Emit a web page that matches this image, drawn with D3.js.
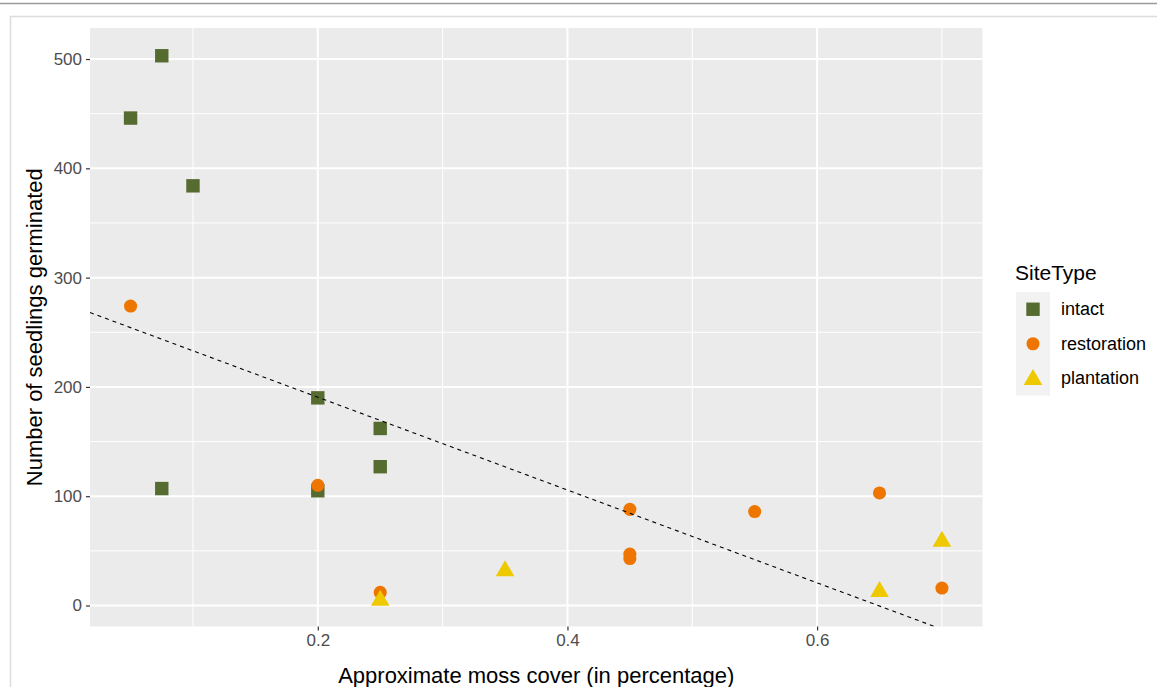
<!DOCTYPE html>
<html>
<head>
<meta charset="utf-8">
<script src="https://cdn.jsdelivr.net/npm/d3@7"></script>
<style>
  body { margin: 0; background: #fff; }
  svg { display: block; font-family: "Liberation Sans", Arial, sans-serif; }
</style>
</head>
<body>
<svg id="chart" width="1157" height="687"></svg>
<script>
"use strict";

// dados
var siteTypes = ["intact", "restoration", "plantation"];

var intactX = [0.05, 0.075, 0.1, 0.075, 0.2, 0.2, 0.25, 0.25];
var intactY = [446, 503, 384, 107, 190, 105, 162, 127];

var restorationX = [0.05, 0.2, 0.25, 0.45, 0.45, 0.45, 0.55, 0.65, 0.7];
var restorationY = [274, 110, 12, 88, 47, 43, 86, 103, 16];

var plantationX = [0.25, 0.35, 0.65, 0.7];
var plantationY = [6, 33, 14, 60];

var xTicks = [0.2, 0.4, 0.6];
var xMinor = [0.1, 0.3, 0.5, 0.7];
var yTicks = [0, 100, 200, 300, 400, 500];
var yMinor = [50, 150, 250, 350, 450];

// reta de regressão (abline)
var lineIntercept = 275.5;
var lineSlope = -424.6;

var cores = { intact: "#556b2f", restoration: "#ee7600", plantation: "#eec900" };

var svg = d3.select("#chart");

// moldura da página
svg.append("line").attr("x1", 0).attr("x2", 1157).attr("y1", 3.5).attr("y2", 3.5)
    .attr("stroke", "#9a9a9a").attr("stroke-width", 1.5);
svg.append("rect").attr("x", 10.5).attr("y", 16.5).attr("width", 1160).attr("height", 700)
    .attr("fill", "none").attr("stroke", "#dcdcdc").attr("stroke-width", 1.5);

var panel = { left: 90, top: 28, right: 982.5, bottom: 626.5 };

var x = d3.scaleLinear().domain([0.0175, 0.7325]).range([panel.left, panel.right]);
var y = d3.scaleLinear().domain([-19.2, 528.4]).range([panel.bottom, panel.top]);

svg.append("rect")
    .attr("x", panel.left).attr("y", panel.top)
    .attr("width", panel.right - panel.left).attr("height", panel.bottom - panel.top)
    .attr("fill", "#ebebeb");

var grid = svg.append("g");

function vline(v, w) {
    grid.append("line").attr("x1", x(v)).attr("x2", x(v))
        .attr("y1", panel.top).attr("y2", panel.bottom)
        .attr("stroke", "#fff").attr("stroke-width", w);
}
function hline(v, w) {
    grid.append("line").attr("x1", panel.left).attr("x2", panel.right)
        .attr("y1", y(v)).attr("y2", y(v))
        .attr("stroke", "#fff").attr("stroke-width", w);
}
xMinor.forEach(function (v) { vline(v, 1); });
yMinor.forEach(function (v) { hline(v, 1); });
xTicks.forEach(function (v) { vline(v, 2); });
yTicks.forEach(function (v) { hline(v, 2); });

// eixos
var xAxis = d3.axisBottom(x).tickValues(xTicks).tickSize(4).tickPadding(3)
    .tickFormat(d3.format(".1f"));
var gx = svg.append("g").attr("transform", "translate(0," + panel.bottom + ")").call(xAxis);
var yAxis = d3.axisLeft(y).tickValues(yTicks).tickSize(4).tickPadding(4);
var gy = svg.append("g").attr("transform", "translate(" + panel.left + ",0)").call(yAxis);

[gx, gy].forEach(function (g) {
    g.select(".domain").remove();
    g.selectAll(".tick line").attr("stroke", "#333").attr("stroke-width", 1.2);
    g.selectAll(".tick text").attr("fill", "#4d4d4d").style("font-size", "17px")
        .style("font-family", "Liberation Sans, Arial, sans-serif");
});

svg.append("text").attr("x", (panel.left + panel.right) / 2).attr("y", 683)
    .attr("text-anchor", "middle").style("font-size", "22px").attr("fill", "#000")
    .text("Approximate moss cover (in percentage)");

svg.append("text")
    .attr("transform", "translate(42," + ((panel.top + panel.bottom) / 2) + ") rotate(-90)")
    .attr("text-anchor", "middle").style("font-size", "22px").attr("fill", "#000")
    .text("Number of seedlings germinated");

// pontos
var plot = svg.append("g");
plot.append("clipPath").attr("id", "clip").append("rect")
    .attr("x", panel.left).attr("y", panel.top)
    .attr("width", panel.right - panel.left).attr("height", panel.bottom - panel.top);

var shapes = {
    intact: d3.symbol().type(d3.symbolSquare).size(180),
    restoration: d3.symbol().type(d3.symbolCircle).size(135),
    plantation: d3.symbol().type(d3.symbolTriangle).size(150)
};

function desenhaSerie(tipo, xs, ys) {
    var dados = xs.map(function (v, i) { return { x: v, y: ys[i] }; });
    plot.append("g").selectAll("path")
        .data(dados)
        .enter().append("path")
        .attr("d", shapes[tipo])
        .attr("transform", function (d) {
            var dy = tipo === "plantation" ? 1.5 : 0;
            return "translate(" + x(d.x) + "," + (y(d.y) + dy) + ")";
        })
        .attr("fill", cores[tipo]);
}
desenhaSerie("intact", intactX, intactY);
desenhaSerie("restoration", restorationX, restorationY);
desenhaSerie("plantation", plantationX, plantationY);

// linha tracejada
var x0 = x.domain()[0], x1 = x.domain()[1];
plot.append("line")
    .attr("clip-path", "url(#clip)")
    .attr("x1", x(x0)).attr("y1", y(lineIntercept + lineSlope * x0))
    .attr("x2", x(x1)).attr("y2", y(lineIntercept + lineSlope * x1))
    .attr("stroke", "#000").attr("stroke-width", 1.1)
    .attr("stroke-dasharray", "4,4");

// legenda
var leg = svg.append("g");
leg.append("text").attr("x", 1015).attr("y", 280).style("font-size", "21px")
    .attr("fill", "#000").text("SiteType");

var keySize = 34.5;
var keyTop = 292;
leg.append("rect").attr("x", 1016).attr("y", keyTop)
    .attr("width", 34).attr("height", keySize * 3).attr("fill", "#f2f2f2");

siteTypes.forEach(function (tipo, i) {
    var cy = keyTop + keySize * i + keySize / 2;
    leg.append("path")
        .attr("d", shapes[tipo])
        .attr("transform", "translate(1033," + (cy + (tipo === "plantation" ? 1.5 : 0)) + ")")
        .attr("fill", cores[tipo]);
    leg.append("text").attr("x", 1061).attr("y", cy + 6)
        .style("font-size", "18px").attr("fill", "#000").text(tipo);
});
</script>
</body>
</html>
